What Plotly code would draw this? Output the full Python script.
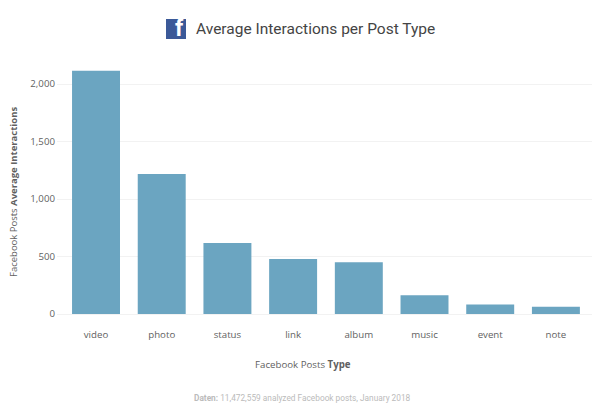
import pandas as pd
import plotly.express as px
import plotly.graph_objects as go
import plotly.io as pio

pio.templates.default = "plotly_white"

data = pd.DataFrame({"Type": ["video", "photo", "status", "link",
                              "album", "music", "event", "note"],
                     "Interactions": [2116, 1217, 617, 478,
                                      450, 163, 82, 64]})

fig = px.bar(data,
             x="Type",
             y="Interactions",
             color_discrete_sequence=["#6BA5C1"])
fig.update_traces(width=0.73, marker_line_width=0)

fig.update_xaxes(title_text="",
                 range=[-0.594, 7.595],
                 showgrid=False,
                 showline=False,
                 zeroline=False,
                 ticks="",
                 ticklabelstandoff=13,
                 tickfont=dict(size=9.7, color="#5F5F5F"))
fig.update_yaxes(title_text="",
                 range=[0, 2200],
                 tickvals=[0, 500, 1000, 1500, 2000],
                 tickformat=",d",
                 ticklabelstandoff=1,
                 gridcolor="#F2F2F2",
                 gridwidth=1,
                 zeroline=True,
                 zerolinecolor="#F2F2F2",
                 zerolinewidth=1,
                 tickfont=dict(size=9.7, color="#5F5F5F"))

# axis titles sit off the plot centre in the original
fig.add_annotation(text="Facebook Posts <b>Type</b>",
                   xref="paper", yref="paper",
                   x=(303 - 57) / 538, y=-(364 - 314) / 253,
                   xanchor="center", yanchor="middle",
                   showarrow=False,
                   font=dict(size=9.7, color="#5F5F5F"))
fig.add_annotation(text="Facebook Posts <b>Average Interactions</b>",
                   xref="paper", yref="paper",
                   x=(13 - 57) / 538, y=(314 - 192) / 253,
                   xanchor="center", yanchor="middle",
                   textangle=-90,
                   showarrow=False,
                   font=dict(size=9.5, color="#5F5F5F"))

# facebook logo next to the title (page has an 8px body margin)
fig.add_shape(type="rect", xref="paper", yref="paper",
              x0=(166 - 57) / 538, x1=(186 - 57) / 538,
              y0=1 + (61 - 39) / 253, y1=1 + (61 - 19) / 253,
              fillcolor="#3B5998", line_width=0)
fig.add_annotation(go.layout.Annotation(text="<b>f</b>",
                                        xref="paper", yref="paper",
                                        x=(179 - 57) / 538,
                                        y=1 + (61 - 44) / 253,
                                        xanchor="center", yanchor="bottom",
                                        showarrow=False,
                                        font=dict(family="Roboto", size=23, color="white")))

# source note
fig.add_annotation(text="<b>Daten:</b> 11,472,559 analyzed Facebook posts, January 2018",
                   xref="paper", yref="paper",
                   x=(302 - 57) / 538, y=-(398 - 314) / 253,
                   xanchor="center", yanchor="middle",
                   showarrow=False,
                   font=dict(family="Roboto", size=8.3, color="#BBBBBB"))

fig.update_layout(width=592, height=411,
                  margin=dict(l=49, r=5, t=53, b=105, autoexpand=False),
                  font=dict(family="Open Sans"),
                  title=dict(text="Average Interactions per Post Type",
                             x=188 / 592, xanchor="left",
                             y=1 - 21 / 411, yanchor="middle",
                             font=dict(family="Roboto", size=15.5, color="#444444")),
                  showlegend=False)

fig.write_html("out.html")
